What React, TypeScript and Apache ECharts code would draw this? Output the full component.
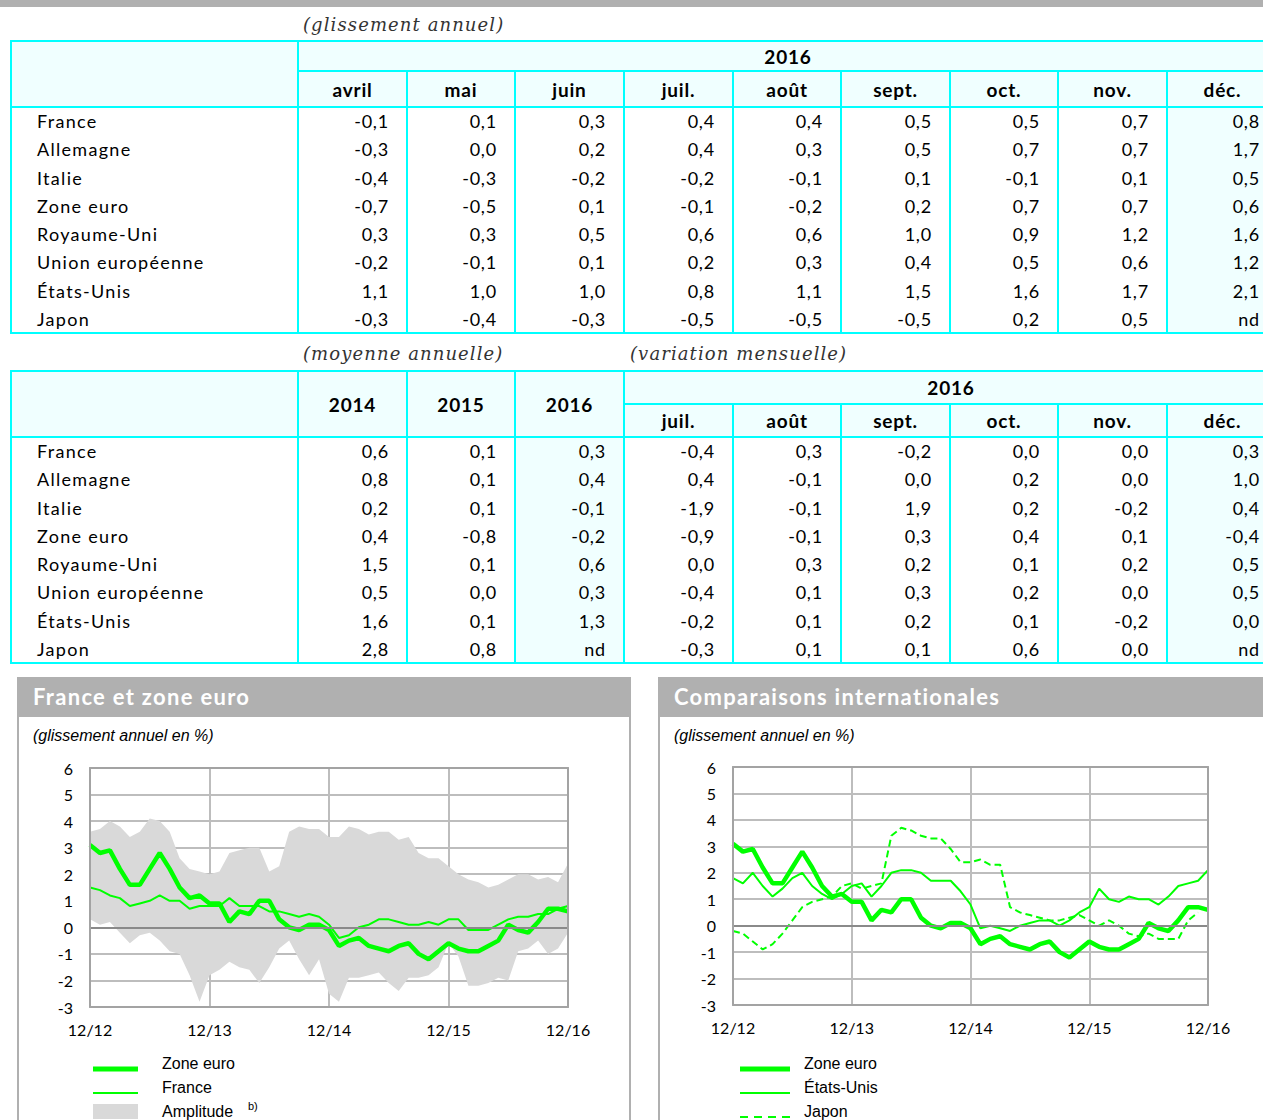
import React, { useEffect, useRef } from "react";
import * as echarts from "echarts";

// ---------- Tables data ----------
const COUNTRIES = ["France", "Allemagne", "Italie", "Zone euro", "Royaume-Uni", "Union européenne", "États-Unis", "Japon"];
const T1_YEAR = "2016";
const T1_MONTHS = ["avril", "mai", "juin", "juil.", "août", "sept.", "oct.", "nov.", "déc."];
const T1_VALUES = [
  ["-0,1", "0,1", "0,3", "0,4", "0,4", "0,5", "0,5", "0,7", "0,8"],
  ["-0,3", "0,0", "0,2", "0,4", "0,3", "0,5", "0,7", "0,7", "1,7"],
  ["-0,4", "-0,3", "-0,2", "-0,2", "-0,1", "0,1", "-0,1", "0,1", "0,5"],
  ["-0,7", "-0,5", "0,1", "-0,1", "-0,2", "0,2", "0,7", "0,7", "0,6"],
  ["0,3", "0,3", "0,5", "0,6", "0,6", "1,0", "0,9", "1,2", "1,6"],
  ["-0,2", "-0,1", "0,1", "0,2", "0,3", "0,4", "0,5", "0,6", "1,2"],
  ["1,1", "1,0", "1,0", "0,8", "1,1", "1,5", "1,6", "1,7", "2,1"],
  ["-0,3", "-0,4", "-0,3", "-0,5", "-0,5", "-0,5", "0,2", "0,5", "nd"],
];
const T2_YEARS = ["2014", "2015", "2016"];
const T2_MONTHS = ["juil.", "août", "sept.", "oct.", "nov.", "déc."];
const T2_VALUES = [
  ["0,6", "0,1", "0,3", "-0,4", "0,3", "-0,2", "0,0", "0,0", "0,3"],
  ["0,8", "0,1", "0,4", "0,4", "-0,1", "0,0", "0,2", "0,0", "1,0"],
  ["0,2", "0,1", "-0,1", "-1,9", "-0,1", "1,9", "0,2", "-0,2", "0,4"],
  ["0,4", "-0,8", "-0,2", "-0,9", "-0,1", "0,3", "0,4", "0,1", "-0,4"],
  ["1,5", "0,1", "0,6", "0,0", "0,3", "0,2", "0,1", "0,2", "0,5"],
  ["0,5", "0,0", "0,3", "-0,4", "0,1", "0,3", "0,2", "0,0", "0,5"],
  ["1,6", "0,1", "1,3", "-0,2", "0,1", "0,2", "0,1", "-0,2", "0,0"],
  ["2,8", "0,8", "nd", "-0,3", "0,1", "0,1", "0,6", "0,0", "nd"],
];

// ---------- Chart data ----------
const MONTHS = [
  "12/12", "01/13", "02/13", "03/13", "04/13", "05/13", "06/13", "07/13", "08/13", "09/13", "10/13", "11/13",
  "12/13", "01/14", "02/14", "03/14", "04/14", "05/14", "06/14", "07/14", "08/14", "09/14", "10/14", "11/14",
  "12/14", "01/15", "02/15", "03/15", "04/15", "05/15", "06/15", "07/15", "08/15", "09/15", "10/15", "11/15",
  "12/15", "01/16", "02/16", "03/16", "04/16", "05/16", "06/16", "07/16", "08/16", "09/16", "10/16", "11/16",
  "12/16",
];
const ZONE_EURO = [3.1, 2.8, 2.9, 2.2, 1.6, 1.6, 2.2, 2.8, 2.2, 1.5, 1.1, 1.2, 0.9, 0.9, 0.2, 0.6, 0.5, 1.0, 1.0, 0.3, 0.0, -0.1, 0.1, 0.1, -0.1, -0.7, -0.5, -0.4, -0.7, -0.8, -0.9, -0.7, -0.6, -1.0, -1.2, -0.9, -0.6, -0.8, -0.9, -0.9, -0.7, -0.5, 0.1, -0.1, -0.2, 0.2, 0.7, 0.7, 0.6];
const FRANCE = [1.5, 1.4, 1.2, 1.1, 0.8, 0.9, 1.0, 1.2, 1.0, 1.0, 0.7, 0.8, 0.8, 0.8, 1.1, 0.8, 0.8, 0.8, 0.6, 0.6, 0.5, 0.4, 0.5, 0.4, 0.1, -0.4, -0.3, 0.0, 0.1, 0.3, 0.3, 0.2, 0.1, 0.1, 0.2, 0.1, 0.3, 0.3, -0.1, -0.1, -0.1, 0.1, 0.3, 0.4, 0.4, 0.5, 0.5, 0.7, 0.8];
const AMP_HIGH = [3.6, 3.7, 4.0, 3.8, 3.4, 3.6, 4.1, 4.0, 3.6, 2.6, 2.2, 2.1, 2.0, 2.1, 2.8, 2.9, 3.0, 3.0, 2.1, 2.3, 3.6, 3.8, 3.7, 3.7, 3.4, 3.4, 3.8, 3.7, 3.5, 3.6, 3.6, 3.3, 3.4, 2.8, 2.6, 2.6, 2.3, 2.0, 1.8, 1.7, 1.5, 1.6, 1.8, 2.0, 2.0, 1.8, 1.9, 1.7, 2.4];
const AMP_LOW = [0.3, 0.1, 0.2, -0.2, -0.6, -0.3, -0.2, -0.5, -0.9, -1.0, -1.8, -2.8, -1.8, -1.6, -1.3, -1.5, -1.6, -2.1, -1.5, -0.8, -0.5, -1.2, -1.8, -1.2, -2.5, -2.8, -1.9, -1.9, -1.8, -1.7, -2.1, -2.4, -1.9, -1.9, -1.8, -1.5, -0.6, -1.1, -2.2, -2.2, -2.1, -1.9, -2.0, -0.9, -0.8, -0.5, -1.0, -0.8, -0.2];
const ETATS_UNIS = [1.8, 1.6, 2.0, 1.5, 1.1, 1.4, 1.8, 2.0, 1.5, 1.2, 1.0, 1.2, 1.5, 1.6, 1.1, 1.5, 2.0, 2.1, 2.1, 2.0, 1.7, 1.7, 1.7, 1.3, 0.8, -0.1, 0.0, -0.1, -0.2, 0.0, 0.1, 0.2, 0.2, 0.0, 0.2, 0.5, 0.7, 1.4, 1.0, 0.9, 1.1, 1.0, 1.0, 0.8, 1.1, 1.5, 1.6, 1.7, 2.1];
const JAPON = [-0.2, -0.3, -0.6, -0.9, -0.7, -0.3, 0.2, 0.7, 0.9, 1.0, 1.1, 1.5, 1.6, 1.4, 1.5, 1.6, 3.4, 3.7, 3.6, 3.4, 3.3, 3.3, 2.9, 2.4, 2.4, 2.5, 2.3, 2.3, 0.7, 0.5, 0.4, 0.3, 0.2, 0.2, 0.3, 0.4, 0.2, 0.0, 0.2, 0.0, -0.3, -0.4, -0.3, -0.5, -0.5, -0.5, 0.2, 0.5, null];

// ---------- Styles ----------
const CYAN = "#00ffff";
const AZURE = "#f0ffff";
const PANEL_GRAY = "#b0b0b0";
const GREEN = "#00ff00";
const BAND = "#d9d9d9";
const GRID = "#bdbdbd";
const BORDER = "#a3a3a3";
const ZERO = "#8a8a8a";
const SANS = "Lato, 'Noto Sans', sans-serif";

const COL_X = [298, 407, 515, 624, 733, 841, 950, 1058, 1167, 1278];
const TABLE_L = 11;
const ROW_H = 28.25;

const H = (x1: number, x2: number, y: number, k: string) => (
  <div key={k} style={{ position: "absolute", left: x1 - 1, top: y - 1, width: x2 - x1 + 2, height: 2, background: CYAN }} />
);
const V = (x: number, y1: number, y2: number, k: string) => (
  <div key={k} style={{ position: "absolute", left: x - 1, top: y1 - 1, width: 2, height: y2 - y1 + 2, background: CYAN }} />
);
const R = (x1: number, x2: number, y1: number, y2: number, k: string) => (
  <div key={k} style={{ position: "absolute", left: x1, top: y1, width: x2 - x1, height: y2 - y1, background: AZURE }} />
);
const Txt = (
  k: string, x: number, w: number, y: number, h: number, text: string,
  align: "left" | "right" | "center", bold: boolean, pad = 0
) => (
  <div key={k} style={{
    position: "absolute", left: x, top: y, width: w, height: h, display: "flex", alignItems: "center",
    justifyContent: align === "left" ? "flex-start" : align === "right" ? "flex-end" : "center",
    paddingLeft: align === "left" ? pad : 0, paddingRight: align === "right" ? pad : 0, boxSizing: "border-box",
    fontFamily: SANS, fontSize: bold ? 19 : 18, fontWeight: bold ? 700 : 400,
    letterSpacing: bold ? 0.8 : align === "left" ? 1.3 : 0.8,
    color: "#000", whiteSpace: "nowrap",
  }}>{text}</div>
);
const Caption = (k: string, x: number, y: number, text: string) => (
  <div key={k} style={{
    position: "absolute", left: x, top: y, height: 24, lineHeight: "24px", fontFamily: "'DejaVu Serif', serif",
    fontStyle: "italic", fontSize: 18, letterSpacing: 1.1, color: "#333", whiteSpace: "nowrap",
  }}>{text}</div>
);

function Table1() {
  const top = 41, h1 = 71, h2 = 107;
  const bottom = h2 + ROW_H * COUNTRIES.length;
  const right = COL_X[COL_X.length - 1];
  const els: any[] = [];
  els.push(R(TABLE_L, right, top, h2, "bg"));
  els.push(R(COL_X[8], right, h2, bottom, "bgd"));
  els.push(H(TABLE_L, right, top, "ht"), H(COL_X[0], right, h1, "h1"), H(TABLE_L, right, h2, "h2"), H(TABLE_L, right, bottom, "hb"));
  els.push(V(TABLE_L, top, bottom, "vl"), V(COL_X[0], top, bottom, "v0"));
  for (let j = 1; j < COL_X.length; j++) els.push(V(COL_X[j], h1, bottom, "v" + j));
  els.push(V(right, top, bottom, "vr"));
  els.push(Txt("yr", COL_X[0], right - COL_X[0], top, h1 - top, T1_YEAR, "center", true));
  T1_MONTHS.forEach((m, j) => els.push(Txt("m" + j, COL_X[j], COL_X[j + 1] - COL_X[j], h1, h2 - h1, m, "center", true)));
  COUNTRIES.forEach((c, i) => {
    const y = h2 + i * ROW_H;
    els.push(Txt("c" + i, TABLE_L, COL_X[0] - TABLE_L, y, ROW_H, c, "left", false, 26));
    T1_VALUES[i].forEach((v, j) => els.push(Txt("d" + i + "_" + j, COL_X[j], COL_X[j + 1] - COL_X[j], y, ROW_H, v, "right", false, 18)));
  });
  return <>{els}</>;
}

function Table2() {
  const top = 371, h1 = 404, h2 = 437;
  const bottom = h2 + ROW_H * COUNTRIES.length;
  const right = COL_X[COL_X.length - 1];
  const els: any[] = [];
  els.push(R(TABLE_L, right, top, h2, "bg"));
  els.push(R(COL_X[2], COL_X[3], h2, bottom, "bg16"));
  els.push(R(COL_X[8], right, h2, bottom, "bgd"));
  els.push(H(TABLE_L, right, top, "ht"), H(COL_X[3], right, h1, "h1"), H(TABLE_L, right, h2, "h2"), H(TABLE_L, right, bottom, "hb"));
  els.push(V(TABLE_L, top, bottom, "vl"));
  for (let j = 0; j <= 3; j++) els.push(V(COL_X[j], top, bottom, "v" + j));
  for (let j = 4; j < COL_X.length; j++) els.push(V(COL_X[j], h1, bottom, "v" + j));
  els.push(V(right, top, bottom, "vr"));
  T2_YEARS.forEach((y, j) => els.push(Txt("y" + j, COL_X[j], COL_X[j + 1] - COL_X[j], top, h2 - top, y, "center", true)));
  els.push(Txt("yr", COL_X[3], right - COL_X[3], top, h1 - top, T1_YEAR, "center", true));
  T2_MONTHS.forEach((m, j) => els.push(Txt("m" + j, COL_X[j + 3], COL_X[j + 4] - COL_X[j + 3], h1, h2 - h1, m, "center", true)));
  COUNTRIES.forEach((c, i) => {
    const y = h2 + i * ROW_H;
    els.push(Txt("c" + i, TABLE_L, COL_X[0] - TABLE_L, y, ROW_H, c, "left", false, 26));
    T2_VALUES[i].forEach((v, j) => els.push(Txt("d" + i + "_" + j, COL_X[j], COL_X[j + 1] - COL_X[j], y, ROW_H, v, "right", false, 18)));
  });
  return <>{els}</>;
}

// ---------- Chart options ----------
const axisFont = { fontFamily: SANS, fontSize: 16, color: "#000" };
const legendFont = "16px 'Liberation Sans', Arial, sans-serif";

function baseOption(grid: any, series: any[], graphic: any[]) {
  const yCommon = { type: "value", min: -3, max: 6, interval: 1 };
  return {
    animation: false,
    title: {
      text: "(glissement annuel en %)", left: 14, top: 9, padding: 0,
      textStyle: { fontFamily: "'Liberation Sans', Arial, sans-serif", fontStyle: "italic", fontWeight: "normal", fontSize: 16, color: "#000" },
    },
    grid,
    xAxis: [
      {
        type: "category", data: MONTHS, boundaryGap: false,
        axisLine: { show: true, onZero: false, lineStyle: { color: BORDER, width: 2 } },
        axisTick: { show: false },
        axisLabel: { interval: 11, margin: 14, ...axisFont },
        splitLine: { show: true, interval: 11, lineStyle: { color: GRID, width: 2 } },
      },
      {
        type: "category", data: MONTHS, boundaryGap: false, position: "top",
        axisLine: { show: true, onZero: false, lineStyle: { color: BORDER, width: 2 } },
        axisTick: { show: false }, axisLabel: { show: false }, splitLine: { show: false },
      },
    ],
    yAxis: [
      {
        ...yCommon, position: "left",
        axisLine: { show: false, onZero: false }, axisTick: { show: false },
        axisLabel: { margin: 17, ...axisFont },
        splitLine: { show: true, lineStyle: { color: GRID, width: 2 } },
      },
      {
        ...yCommon, position: "left", z: 10,
        axisLine: { show: true, onZero: false, lineStyle: { color: BORDER, width: 2 } },
        axisTick: { show: false }, axisLabel: { show: false }, splitLine: { show: false },
      },
      {
        ...yCommon, position: "right", z: 10,
        axisLine: { show: true, onZero: false, lineStyle: { color: BORDER, width: 2 } },
        axisTick: { show: false }, axisLabel: { show: false }, splitLine: { show: false },
      },
    ],
    series,
    graphic,
  };
}

const zeroLine = {
  silent: true, symbol: "none", label: { show: false },
  lineStyle: { color: ZERO, width: 2, type: "solid" }, emphasis: { disabled: true },
  data: [{ yAxis: 0 }],
};

function leftOption() {
  const series = [
    {
      name: "amp_low", type: "line", data: AMP_LOW, stack: "amp", stackStrategy: "all",
      symbol: "none", lineStyle: { opacity: 0, width: 0 }, z: 2, silent: true,
    },
    {
      name: "Amplitude", type: "line", data: AMP_HIGH.map((v, i) => +(v - AMP_LOW[i]).toFixed(2)), stack: "amp", stackStrategy: "all",
      symbol: "none", lineStyle: { opacity: 0, width: 0 }, areaStyle: { color: BAND, opacity: 1 }, z: 2, silent: true,
      markLine: zeroLine,
    },
    { name: "France", type: "line", data: FRANCE, symbol: "none", lineStyle: { color: GREEN, width: 2 }, z: 3 },
    { name: "Zone euro", type: "line", data: ZONE_EURO, symbol: "none", lineStyle: { color: GREEN, width: 4.5 }, z: 4 },
  ];
  const graphic = [
    { type: "line", shape: { x1: 74, y1: 351, x2: 119, y2: 351 }, style: { stroke: GREEN, lineWidth: 5 } },
    { type: "line", shape: { x1: 74, y1: 375, x2: 119, y2: 375 }, style: { stroke: GREEN, lineWidth: 2 } },
    { type: "rect", shape: { x: 74, y: 386, width: 45, height: 15 }, style: { fill: BAND } },
    { type: "text", x: 143, y: 345, style: { text: "Zone euro", font: legendFont, fill: "#000", verticalAlign: "middle", textVerticalAlign: "middle" } },
    { type: "text", x: 143, y: 369, style: { text: "France", font: legendFont, fill: "#000", verticalAlign: "middle", textVerticalAlign: "middle" } },
    { type: "text", x: 143, y: 393, style: { text: "Amplitude", font: legendFont, fill: "#000", verticalAlign: "middle", textVerticalAlign: "middle" } },
    { type: "text", x: 229, y: 388, style: { text: "b)", font: "11px 'Liberation Sans', Arial, sans-serif", fill: "#000", verticalAlign: "middle", textVerticalAlign: "middle" } },
  ];
  return baseOption({ left: 71, top: 50, width: 478, height: 239 }, series, graphic);
}

function rightOption() {
  const series = [
    {
      name: "Japon", type: "line", data: JAPON, symbol: "none", connectNulls: false,
      lineStyle: { color: GREEN, width: 2, type: [7, 4] }, z: 2, markLine: zeroLine,
    },
    { name: "États-Unis", type: "line", data: ETATS_UNIS, symbol: "none", lineStyle: { color: GREEN, width: 2 }, z: 3 },
    { name: "Zone euro", type: "line", data: ZONE_EURO, symbol: "none", lineStyle: { color: GREEN, width: 4.5 }, z: 4 },
  ];
  const graphic = [
    { type: "line", shape: { x1: 80, y1: 351, x2: 130, y2: 351 }, style: { stroke: GREEN, lineWidth: 5 } },
    { type: "line", shape: { x1: 80, y1: 375, x2: 130, y2: 375 }, style: { stroke: GREEN, lineWidth: 2 } },
    { type: "line", shape: { x1: 80, y1: 399, x2: 130, y2: 399 }, style: { stroke: GREEN, lineWidth: 2, lineDash: [8, 6] } },
    { type: "text", x: 144, y: 345, style: { text: "Zone euro", font: legendFont, fill: "#000", verticalAlign: "middle", textVerticalAlign: "middle" } },
    { type: "text", x: 144, y: 369, style: { text: "États-Unis", font: legendFont, fill: "#000", verticalAlign: "middle", textVerticalAlign: "middle" } },
    { type: "text", x: 144, y: 393, style: { text: "Japon", font: legendFont, fill: "#000", verticalAlign: "middle", textVerticalAlign: "middle" } },
  ];
  return baseOption({ left: 73, top: 49, width: 475, height: 238 }, series, graphic);
}

function Chart({ left, top, width, height, option }: any) {
  const ref = useRef<HTMLDivElement>(null);
  useEffect(() => {
    if (!ref.current) return;
    const chart = echarts.init(ref.current, undefined, { renderer: "svg" });
    chart.setOption(option);
    return () => chart.dispose();
  }, []);
  return <div ref={ref} style={{ position: "absolute", left, top, width, height }} />;
}

function Panel({ left, width, title }: any) {
  return (
    <>
      <div style={{ position: "absolute", left, top: 677, width, height: 443, borderLeft: `2px solid ${PANEL_GRAY}`, borderRight: `2px solid ${PANEL_GRAY}`, boxSizing: "border-box" }} />
      <div style={{
        position: "absolute", left, top: 677, width, height: 40, background: PANEL_GRAY, color: "#fff",
        fontFamily: SANS, fontWeight: 700, fontSize: 22, letterSpacing: 1.3, lineHeight: "40px", paddingLeft: 16, boxSizing: "border-box", whiteSpace: "nowrap",
      }}>{title}</div>
    </>
  );
}

export default function App() {
  return (
    <div style={{ position: "absolute", left: 0, top: 0, width: 1263, height: 1120, overflow: "hidden", background: "#fff" }}>
      <div style={{ position: "absolute", left: 0, top: 0, width: 1263, height: 7, background: PANEL_GRAY }} />
      {Caption("c1", 303, 13, "(glissement annuel)")}
      <Table1 />
      {Caption("c2", 303, 342, "(moyenne annuelle)")}
      {Caption("c3", 630, 342, "(variation mensuelle)")}
      <Table2 />
      <Panel left={17} width={614} title="France et zone euro" />
      <Panel left={658} width={640} title="Comparaisons internationales" />
      <Chart left={19} top={718} width={610} height={402} option={leftOption()} />
      <Chart left={660} top={718} width={603} height={402} option={rightOption()} />
    </div>
  );
}
